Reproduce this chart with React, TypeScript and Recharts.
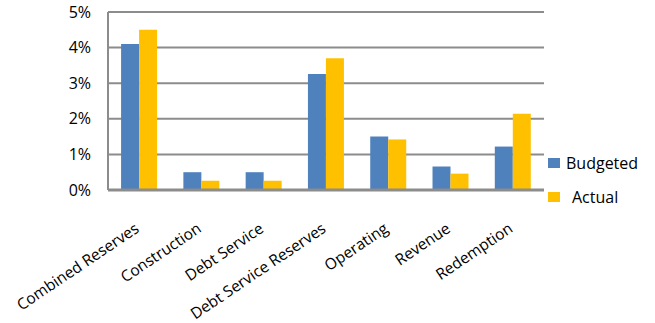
import { BarChart, Bar, XAxis, YAxis, CartesianGrid } from "recharts";

const categories = [
  "Combined Reserves",
  "Construction",
  "Debt Service",
  "Debt Service Reserves",
  "Operating",
  "Revenue",
  "Redemption",
];
const budgeted = [4.1, 0.5, 0.5, 3.26, 1.5, 0.66, 1.22];
const actual = [4.5, 0.26, 0.26, 3.7, 1.42, 0.46, 2.14];
const yTicks = [0, 1, 2, 3, 4, 5];

const data = categories.map((name, i) => ({
  name,
  budgeted: budgeted[i],
  actual: actual[i],
}));

const FONT = "'Open Sans', sans-serif";

const XTick = ({ x, y, payload }: any) => {
  const ax = x + 1;
  const ay = y + 33;
  return (
    <text
      x={ax}
      y={ay}
      transform={`rotate(-34, ${ax}, ${ay})`}
      textAnchor="end"
      fontSize={15.5}
      fontFamily={FONT}
      fill="#000"
    >
      {payload.value}
    </text>
  );
};

const LegendBox = () => (
  <div
    style={{
      position: "absolute",
      left: 548,
      top: 153,
      fontFamily: FONT,
      fontSize: 16,
      color: "#000",
    }}
  >
    <div style={{ display: "flex", alignItems: "center", height: 20 }}>
      <span style={{ width: 12, height: 10, background: "#4F81BD", marginRight: 6 }} />
      Budgeted
    </div>
    <div style={{ display: "flex", alignItems: "center", height: 20, marginTop: 14 }}>
      <span style={{ width: 12, height: 10, background: "#FFC000", marginRight: 12 }} />
      Actual
    </div>
  </div>
);

export default function App() {
  return (
    <div
      style={{
        position: "absolute",
        left: 0,
        top: 0,
        width: 655,
        height: 323,
        background: "#fff",
        overflow: "hidden",
      }}
    >
      <div
        style={{
          position: "absolute",
          left: 264,
          top: -39,
          fontFamily: FONT,
          fontWeight: "bold",
          fontSize: 30,
          color: "#000",
        }}
      >
        g
      </div>
      <BarChart
        width={655}
        height={323}
        data={data}
        margin={{ top: 12, right: 111, bottom: 0, left: 0 }}
        barCategoryGap="21%"
        barGap={0}
      >
        <CartesianGrid vertical={false} stroke="#8c8c8c" strokeWidth={2} />
        <YAxis
          width={108}
          domain={[0, 5]}
          ticks={yTicks}
          tickFormatter={(v: number) => `${v}%`}
          axisLine={{ stroke: "#8c8c8c", strokeWidth: 2 }}
          tickLine={false}
          tickMargin={11}
          tick={{ fontSize: 16, fontFamily: FONT, fill: "#000" }}
          interval={0}
        />
        <XAxis
          dataKey="name"
          height={133}
          axisLine={{ stroke: "#8c8c8c", strokeWidth: 3 }}
          tickLine={false}
          interval={0}
          tick={<XTick />}
        />
        <Bar dataKey="budgeted" name="Budgeted" fill="#4F81BD" isAnimationActive={false} />
        <Bar dataKey="actual" name="Actual" fill="#FFC000" isAnimationActive={false} />
      </BarChart>
      <LegendBox />
    </div>
  );
}
